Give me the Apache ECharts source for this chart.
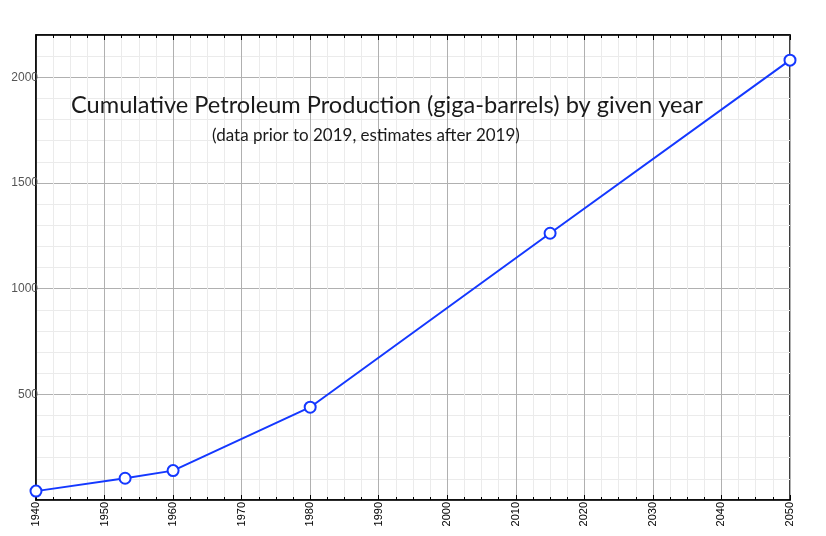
<!DOCTYPE html>
<html><head><meta charset="utf-8">
<script src="https://cdn.jsdelivr.net/npm/echarts@6/dist/echarts.min.js"></script>
<style>html,body{margin:0;padding:0;background:#fff}#c{width:826px;height:536px}</style>
</head><body><div id="c"></div>
<script>
var years = [1940, 1953, 1960, 1980, 2015, 2050];
var cumulative = [42, 103, 139, 439, 1262, 2081];
var xTicks = [1940, 1950, 1960, 1970, 1980, 1990, 2000, 2010, 2020, 2030, 2040, 2050];
var yTicks = [500, 1000, 1500, 2000];

var chart = echarts.init(document.getElementById('c'));
var xBase = {
  type: 'value', min: 1940, max: 2050, interval: 10,
  splitLine: {show: true, lineStyle: {color: '#b0b0b0', width: 1}},
  minorTick: {show: true, splitNumber: 4, length: 3, lineStyle: {color: '#000'}},
  minorSplitLine: {show: true, lineStyle: {color: '#ebebeb', width: 1}},
  axisLine: {show: true, onZero: false, lineStyle: {color: '#000', width: 1.5}},
  axisTick: {show: true, inside: true, length: 5, lineStyle: {color: '#000'}}
};
chart.setOption({
  animation: false,
  grid: {left: 36, right: 36, top: 35, bottom: 36, show: true, borderColor: '#000', borderWidth: 1.5},
  title: [
    {text: 'Cumulative Petroleum Production (giga-barrels) by given year', left: 66, top: 88,
     textStyle: {fontFamily: 'Lato', fontSize: 23.6, fontWeight: 'normal', color: '#1a1a1a'}},
    {text: '(data prior to 2019, estimates after 2019)', left: 361, top: 122, textAlign: 'center',
     textStyle: {fontFamily: 'Lato', fontSize: 17, fontWeight: 'normal', color: '#1a1a1a'}}
  ],
  xAxis: [
    Object.assign({}, xBase, {
      position: 'bottom',
      axisLabel: {rotate: 90, color: '#000', fontFamily: 'Liberation Sans', fontSize: 11, margin: 2,
        formatter: function (v) { return xTicks.indexOf(v) >= 0 ? String(v) : ''; }}
    }),
    Object.assign({}, xBase, {
      position: 'top',
      splitLine: {show: false}, minorSplitLine: {show: false},
      axisLabel: {show: false}
    })
  ],
  yAxis: [{
    type: 'value', min: 0, max: 2200, interval: 500,
    splitLine: {show: true, lineStyle: {color: '#b0b0b0', width: 1}},
    minorTick: {show: false, splitNumber: 5},
    minorSplitLine: {show: true, lineStyle: {color: '#ebebeb', width: 1}},
    axisLine: {show: true, lineStyle: {color: '#000', width: 1.5}},
    axisTick: {show: false},
    axisLabel: {color: '#555', fontFamily: 'Liberation Sans', fontSize: 12, margin: -2,
      formatter: function (v) { return yTicks.indexOf(v) >= 0 ? String(v) : ''; }}
  }],
  series: [{
    type: 'line',
    data: years.map(function (y, i) { return [y, cumulative[i]]; }),
    symbol: 'circle', symbolSize: 11,
    lineStyle: {color: '#1438ff', width: 2},
    itemStyle: {color: '#fff', borderColor: '#1438ff', borderWidth: 2},
    clip: false, z: 5
  }]
});
</script></body></html>
